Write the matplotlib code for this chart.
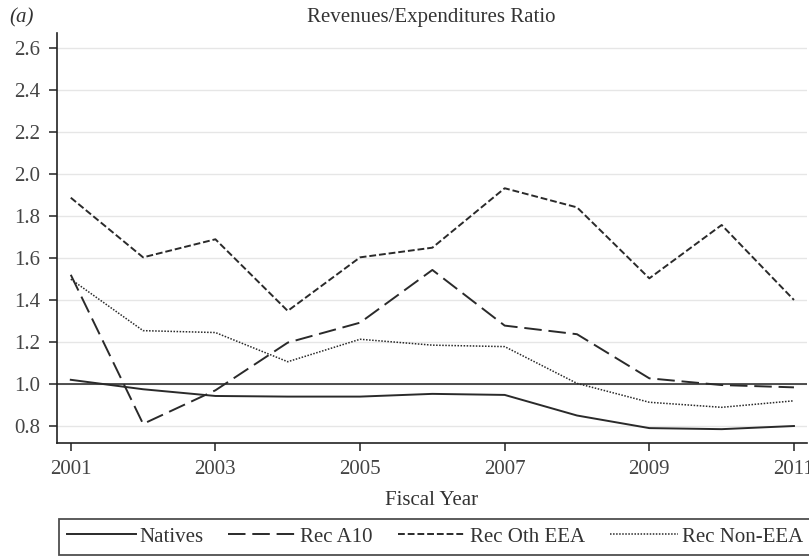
import matplotlib.pyplot as plt

plt.rcParams["font.family"] = ["Liberation Serif", "DejaVu Serif"]

years = [2001, 2002, 2003, 2004, 2005, 2006, 2007, 2008, 2009, 2010, 2011]
natives = [1.02, 0.975, 0.943, 0.940, 0.940, 0.953, 0.948, 0.85, 0.79, 0.785, 0.80]
rec_a10 = [1.52, 0.81, 0.97, 1.197, 1.292, 1.543, 1.278, 1.237, 1.027, 0.995, 0.984]
rec_oth_eea = [1.887, 1.603, 1.689, 1.348, 1.603, 1.649, 1.932, 1.841, 1.503, 1.757, 1.40]
rec_non_eea = [1.499, 1.254, 1.245, 1.106, 1.213, 1.185, 1.178, 1.003, 0.913, 0.889, 0.92]
yticks = [0.8, 1.0, 1.2, 1.4, 1.6, 1.8, 2.0, 2.2, 2.4, 2.6]
xticks = [2001, 2003, 2005, 2007, 2009, 2011]

fs = 15
fig = plt.figure(figsize=(8.09, 5.56), dpi=100)
ax = fig.add_axes([0.0705, 0.2032, 0.927, 0.7374])

lc = "#2a2a2a"
ax.axhline(1.0, color="#222222", lw=1.1, zorder=2)
ax.plot(years, natives, color=lc, lw=1.4, ls="-", label="Natives", zorder=3)
ax.plot(years, rec_a10, color=lc, lw=1.4, ls=(0, (9, 3.5)), label="Rec A10", zorder=3)
ax.plot(years, rec_oth_eea, color=lc, lw=1.4, ls=(0, (3.5, 1.5)), label="Rec Oth EEA", zorder=3)
ax.plot(years, rec_non_eea, color=lc, lw=1.1, ls=(0, (1, 1)), label="Rec Non-EEA", zorder=3)

ax.set_xlim(2000.81, 2011.18)
ax.set_ylim(0.719, 2.671)
ax.set_xticks(xticks)
ax.set_yticks(yticks)
ax.set_yticklabels([f"{v:.1f}" for v in yticks])
ax.yaxis.grid(True, color="#e6e6e6", lw=1)
ax.set_axisbelow(True)
for s in ["top", "right"]:
    ax.spines[s].set_visible(False)
for s in ["left", "bottom"]:
    ax.spines[s].set_color("#222222")
    ax.spines[s].set_linewidth(1.2)
ax.tick_params(colors="#222222", labelcolor="#444444", labelsize=fs, length=6, width=1.1)
ax.tick_params(axis="x", pad=6)
ax.tick_params(axis="y", pad=6)

ax.set_xlabel("Fiscal Year", fontsize=fs, color="#333333", labelpad=9)
fig.text(0.533, 0.968, "Revenues/Expenditures Ratio", ha="center", va="center",
         fontsize=fs, color="#333333")
fig.text(0.012, 0.968, "(a)", ha="left", va="center", fontsize=fs,
         style="italic", color="#333333")

leg = fig.legend(loc="lower left", ncol=4,
                 bbox_to_anchor=(59 / 809, 1 / 556),
                 frameon=True, fancybox=False, fontsize=fs, handlelength=3.3,
                 handletextpad=0.15, columnspacing=1.2, borderpad=0.4,
                 borderaxespad=0, labelcolor="#333333")
leg.get_frame().set_edgecolor("#222222")
leg.get_frame().set_linewidth(1.3)

fig.savefig("out.png", dpi=100)
